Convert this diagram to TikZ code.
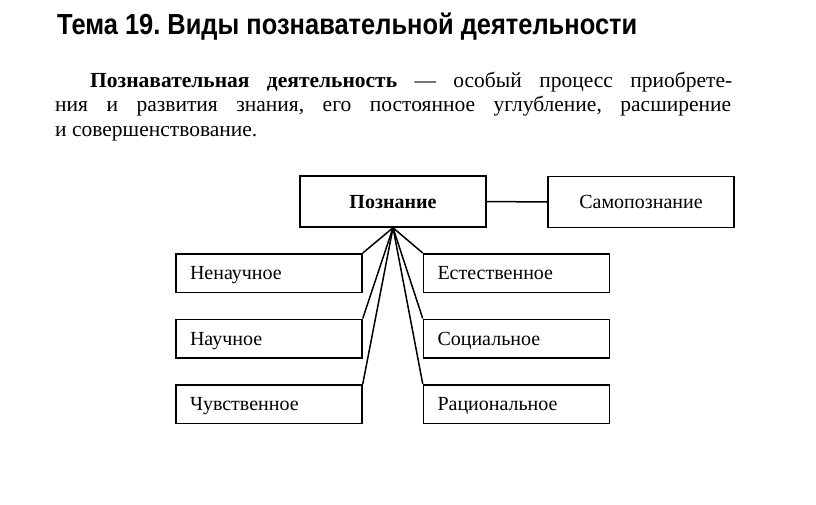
\documentclass[tikz,border=0pt]{standalone}
\usepackage{fontspec}
\setmainfont{Liberation Serif}
\newfontfamily\titlefont{Liberation Sans}
\usepackage{graphicx}
\usepackage{tikz}
\usetikzlibrary{calc,positioning}
\frenchspacing

\tikzset{
  vid/.style={draw, line width=1.5pt, rectangle, minimum width=186pt, minimum height=38.5pt,
    text width=158pt, inner xsep=14pt, align=left, text height=13pt, text depth=0pt,
    font=\fontsize{20}{22}\selectfont},
  glav/.style={draw, line width=1.5pt, rectangle, minimum width=186pt, minimum height=51pt,
    align=center, text height=13pt, text depth=0pt, font=\fontsize{20}{22}\selectfont},
  svyaz/.style={line width=1.5pt}
}

\begin{document}
\begin{tikzpicture}[x=1pt,y=-1pt]
\useasboundingbox (0,0) rectangle (816,504);
% title and definition
\node[anchor=base west, inner sep=0pt] (tema) at (57,34)
  {\resizebox{580pt}{\height}{\titlefont\fontsize{29}{30}\selectfont\bfseries Тема 19. Виды познавательной деятельности}};
\node[anchor=base west, inner sep=0pt] (opr1) at (90,87)
  {\fontsize{21.5}{25}\selectfont\makebox[642pt][s]{\textbf{Познавательная деятельность} --- особый процесс приобрете-}};
\node[anchor=base west, inner sep=0pt] (opr2) at (55,111)
  {\fontsize{21.5}{25}\selectfont\makebox[676pt][s]{ния и развития знания, его постоянное углубление, расширение}};
\node[anchor=base west, inner sep=0pt] (opr3) at (55,136)
  {\fontsize{21.5}{25}\selectfont и совершенствование.};
% scheme
\node[glav] (pozn) at (393,201.5) {\textbf{Познание}};
\node[glav] (samo) at (641,202) {Самопознание};
\node[vid] (nenauch) at (269,273) {Ненаучное};
\node[vid] (nauch) at (269,338.5) {Научное};
\node[vid] (chuvst) at (269,404) {Чувственное};
\node[vid] (estestv) at (516.5,273) {Естественное};
\node[vid] (soc) at (516.5,338.5) {Социальное};
\node[vid] (racion) at (516.5,404) {Рациональное};
\draw [svyaz] (pozn.east) -- (samo.west);
\draw [svyaz] (pozn.south) -- (nenauch.north east);
\draw [svyaz] (pozn.south) -- (nauch.north east);
\draw [svyaz] (pozn.south) -- (chuvst.north east);
\draw [svyaz] (pozn.south) -- (estestv.north west);
\draw [svyaz] (pozn.south) -- (soc.north west);
\draw [svyaz] (pozn.south) -- (racion.north west);
\end{tikzpicture}
\end{document}
